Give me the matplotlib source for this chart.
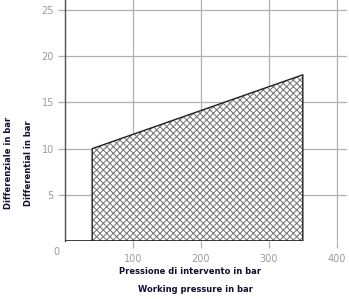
import matplotlib.pyplot as plt

# area: working pressure (bar) vs differential (bar)
pressure = [40, 40, 350, 350]
differential = [0, 10, 18, 0]

xticks = [100, 200, 300, 400]
yticks = [5, 10, 15, 20, 25]

plt.rcParams['hatch.linewidth'] = 0.75

fig = plt.figure(figsize=(3.49, 2.99), dpi=100)
ax = fig.add_axes([65/349, 58/299, 1 - 65/349 - 2/349, 241/299])
ax.set_xlim(0, 415)
ax.set_ylim(0, 26.1)

for x in xticks:
    ax.axvline(x, color='#b0b0b0', lw=0.9, zorder=1)
for y in yticks:
    ax.axhline(y, color='#b0b0b0', lw=0.9, zorder=1)

ax.fill(pressure, differential, facecolor='white', edgecolor='#777777',
        hatch='xxxxx', lw=0, zorder=2)
ax.plot(pressure, differential, color='#202020', lw=1.0, zorder=3)
ax.hlines(0, 0, pressure[-1], color='#202020', lw=1.2, zorder=3)

for s in ['top', 'right', 'bottom']:
    ax.spines[s].set_visible(False)
ax.spines['left'].set_color('#505050')
ax.spines['left'].set_linewidth(1.0)

ax.set_xticks(xticks)
ax.set_yticks(yticks)
ax.tick_params(axis='both', colors='#b0b0b0', labelcolor='#9a9a9a', labelsize=7,
               length=5, width=0.9)
ax.tick_params(axis='x', pad=4)
ax.tick_params(axis='y', pad=3)
ax.text(-12, -1.2, '0', color='#9a9a9a', fontsize=7, ha='center', va='center')

fam = ['Liberation Sans Narrow', 'DejaVu Sans']
fig.text(190/349, 1 - 271/299, 'Pressione di intervento in bar', ha='center', va='center',
         fontsize=6, family=fam, color='#101030', fontweight='semibold')
fig.text(195/349, 1 - 289/299, 'Working pressure in bar', ha='center', va='center',
         fontsize=6, family=fam, color='#101030', fontweight='semibold')
fig.text(9/349, 1 - 163/299, 'Differenziale in bar', ha='center', va='center',
         rotation=90, fontsize=6, family=fam, color='#101030', fontweight='semibold')
fig.text(29/349, 1 - 163/299, 'Differential in bar', ha='center', va='center',
         rotation=90, fontsize=6, family=fam, color='#101030', fontweight='semibold')

fig.savefig('out.png', dpi=100)
